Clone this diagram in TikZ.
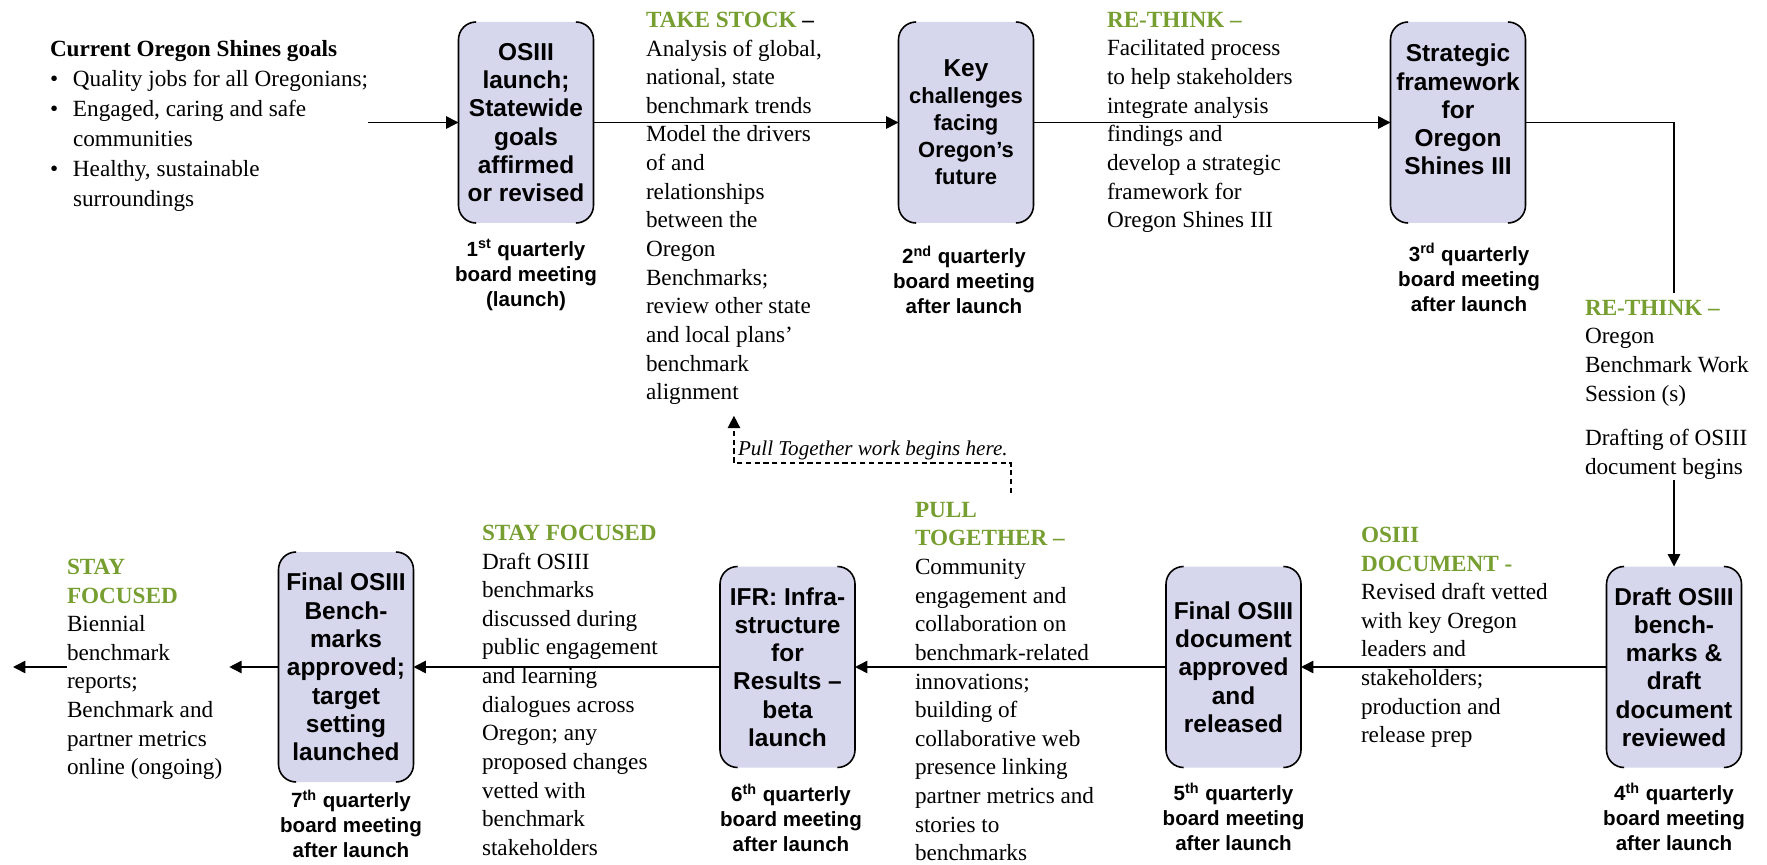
\documentclass[tikz,border=0pt]{standalone}
\usepackage{fontspec}
\setmainfont{Liberation Serif}
\setsansfont{Liberation Sans}
\usetikzlibrary{arrows.meta}

\definecolor{osgreen}{RGB}{118,158,48}
\definecolor{osbox}{RGB}{214,214,236}
\newcommand{\stagename}[1]{{\color{osgreen}\bfseries #1}}

\begin{document}
\begin{tikzpicture}[every node/.append style = {inner sep = 0pt, outer sep = 0pt},
  txt/.style = {anchor = north west, align = left, font = \fontsize{13.2}{16.3}\selectfont},
  qbox/.style = {fill = osbox, rounded corners = 10pt, minimum width = 2.7cm, minimum height = 4.02cm, align = center, font = \sffamily\bfseries\fontsize{13.9}{16.1}\selectfont},
  meeting/.style = {align = center, font = \sffamily\bfseries\fontsize{11.7}{14.2}\selectfont},
  hint/.style = {anchor = west, font = \itshape\fontsize{12}{14}\selectfont},
  arr/.style = {line width = 0.9pt, -{Triangle[length = 7pt, width = 7pt]}},
  line width = 0.9pt]

  \useasboundingbox (0, 0) rectangle (35.34, -17.3);

  % top row
  \node[txt, font = \fontsize{13.2}{17.1}\selectfont] (goals) at (1.0, -0.8) { \textbf{Current Oregon Shines goals}\\
    \makebox[0.46cm][l]{\textbullet}Quality jobs for all Oregonians;\\
    \makebox[0.46cm][l]{\textbullet}Engaged, caring and safe\\
    \hspace{0.46cm}communities\\
    \makebox[0.46cm][l]{\textbullet}Healthy, sustainable\\
    \hspace{0.46cm}surroundings };

  \node[qbox] (b1) at (10.52, -2.45) { OSIII\\ launch;\\ Statewide\\ goals\\ affirmed\\ or revised };
  \node[meeting] (m1) at (10.52, -5.5) { 1\textsuperscript{st} quarterly\\ board meeting\\ (launch) };

  \node[txt] (ts) at (12.92, -0.24) { \stagename{TAKE STOCK} \textbf{–}\\ Analysis of global,\\ national, state\\ benchmark trends\\ Model the drivers\\ of and\\ relationships\\ between the\\ Oregon\\ Benchmarks;\\ review other state\\ and local plans’\\ benchmark\\ alignment };

  \node[qbox, font = \sffamily\bfseries\fontsize{12.5}{15.4}\selectfont] (b2) at (19.32, -2.45) { {\fontsize{13.9}{15.4}\selectfont Key}\\ challenges\\ facing\\ Oregon’s\\ future };
  \node[meeting] (m2) at (19.28, -5.6) { 2\textsuperscript{nd} quarterly\\ board meeting\\ after launch };

  \node[txt] (rt1) at (22.14, -0.24) { \stagename{RE-THINK –}\\ Facilitated process\\ to help stakeholders\\ integrate analysis\\ findings and\\ develop a strategic\\ framework for\\ Oregon Shines III };

  \node[qbox, text depth = 0.52cm] (b3) at (29.16, -2.45) { Strategic\\ framework\\ for\\ Oregon\\ Shines III };
  \node[meeting] (m3) at (29.38, -5.55) { 3\textsuperscript{rd} quarterly\\ board meeting\\ after launch };

  \node[txt] (rt2) at (31.7, -6.0) { \stagename{RE-THINK –}\\ Oregon\\ Benchmark Work\\ Session (s)\\[9pt] Drafting of OSIII\\ document begins };
  \coordinate (rtA) at (33.48, -5.86);
  \coordinate (rtB) at (33.48, -9.6);

  % bottom row
  \node[qbox] (b4) at (33.48, -13.34) { Draft OSIII\\ bench-\\ marks \&\\ draft\\ document\\ reviewed };
  \node[meeting] (m4) at (33.48, -16.34) { 4\textsuperscript{th} quarterly\\ board meeting\\ after launch };

  \node[txt] (od) at (27.22, -10.54) { \stagename{OSIII}\\ \stagename{DOCUMENT -}\\ Revised draft vetted\\ with key Oregon\\ leaders and\\ stakeholders;\\ production and\\ release prep };

  \node[qbox] (b5) at (24.67, -13.34) { Final OSIII\\ document\\ approved\\ and\\ released };
  \node[meeting] (m5) at (24.67, -16.34) { 5\textsuperscript{th} quarterly\\ board meeting\\ after launch };

  \node[txt] (pt) at (18.3, -10.04) { \stagename{PULL}\\ \stagename{TOGETHER –}\\ Community\\ engagement and\\ collaboration on\\ benchmark-related\\ innovations;\\ building of\\ collaborative web\\ presence linking\\ partner metrics and\\ stories to\\ benchmarks };

  \node[hint] (hint) at (14.76, -9.0) { Pull Together work begins here. };
  \coordinate (dstart) at (20.22, -9.86);

  \node[qbox] (b6) at (15.75, -13.34) { IFR: Infra-\\ structure\\ for\\ Results –\\ beta\\ launch };
  \node[meeting] (m6) at (15.82, -16.36) { 6\textsuperscript{th} quarterly\\ board meeting\\ after launch };

  \node[txt] (sf2) at (9.64, -10.5) { \stagename{STAY FOCUSED}\\ Draft OSIII\\ benchmarks\\ discussed during\\ public engagement\\ and learning\\ dialogues across\\ Oregon; any\\ proposed changes\\ vetted with\\ benchmark\\ stakeholders };

  \node[qbox, minimum height = 4.6cm] (b7) at (6.92, -13.34) { Final OSIII\\ Bench-\\ marks\\ approved;\\ target\\ setting\\ launched };
  \node[meeting] (m7) at (7.02, -16.48) { 7\textsuperscript{th} quarterly\\ board meeting\\ after launch };

  \node[txt] (sf1) at (1.34, -11.18) { \stagename{STAY}\\ \stagename{FOCUSED}\\ Biennial\\ benchmark\\ reports;\\ Benchmark and\\ partner metrics\\ online (ongoing) };
  \coordinate (exit) at (0.26, -13.34);

  % box outlines: corners and sides only
  \foreach \n in {b1, b2, b3, b4, b5, b6, b7} {
    \draw[rounded corners = 10pt] ([xshift = 10pt]\n.north west) -- (\n.north west) -- (\n.south west) -- ([xshift = 10pt]\n.south west);
    \draw[rounded corners = 10pt] ([xshift = -10pt]\n.north east) -- (\n.north east) -- (\n.south east) -- ([xshift = -10pt]\n.south east);
  }

  % connectors
  \draw[arr] (goals.east |- b1.west) -- (b1.west);
  \draw[arr] (b1.east) -- (b2.west);
  \draw[arr] (b2.east) -- (b3.west);
  \draw (b3.east) -| (rtA);
  \draw[arr] (rtB) -- (b4.north);
  \draw[arr] (b4.west) -- (b5.east);
  \draw[arr] (b5.west) -- (b6.east);
  \draw[arr] (b6.west) -- (b7.east);
  \draw[arr, shorten > = 4pt] (b7.west) -- (sf1.east |- b7.west);
  \draw[arr] (sf1.west |- b7.west) -- (exit);
  \draw[arr, dash pattern = on 3pt off 2pt] (dstart) -- ++(0, 0.6) -| ([yshift = -0.22cm]ts.south);

\end{tikzpicture}
\end{document}
